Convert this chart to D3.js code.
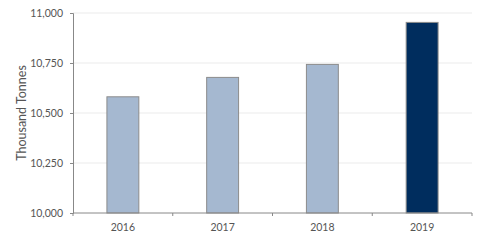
<!DOCTYPE html>
<html>
<head>
<meta charset="utf-8">
<script src="https://cdn.jsdelivr.net/npm/d3@7"></script>
<style>
  body { margin: 0; background: #fff; }
  text { font-family: "Lato", "DejaVu Sans", sans-serif; fill: #555; }
</style>
</head>
<body>
<script>
// data
const years = ['2016', '2017', '2018', '2019']
const tonnes = [10581, 10678, 10743, 10953]
const barColors = ['#a5b8d0', '#a5b8d0', '#a5b8d0', '#002d5e']
const yTicks = [10000, 10250, 10500, 10750, 11000]

const w = 485
const h = 242
const margin = { top: 13, right: 13, bottom: 29, left: 73 }

const svg = d3.select('body')
  .append('svg')
  .attr('width', w)
  .attr('height', h)

const x = d3.scaleBand()
  .domain(years)
  .range([margin.left, w - margin.right])
  .paddingInner(0.68)
  .paddingOuter(0.34)

const y = d3.scaleLinear()
  .domain([10000, 11000])
  .range([h - margin.bottom, margin.top])

// gridlines
svg.append('g')
  .selectAll('line')
  .data(yTicks.slice(1))
  .enter()
  .append('line')
  .attr('x1', margin.left)
  .attr('x2', w - margin.right)
  .attr('y1', d => y(d))
  .attr('y2', d => y(d))
  .attr('stroke', '#ebebeb')
  .attr('stroke-width', 1)

// bars
svg.append('g')
  .selectAll('rect')
  .data(years)
  .enter()
  .append('rect')
  .attr('x', d => x(d))
  .attr('y', (d, i) => y(tonnes[i]))
  .attr('width', x.bandwidth())
  .attr('height', (d, i) => y(10000) - y(tonnes[i]))
  .attr('fill', (d, i) => barColors[i])
  .attr('stroke', '#8c8c8c')
  .attr('stroke-width', 1)

// y axis
const yAxis = svg.append('g')
  .attr('transform', `translate(${margin.left},0)`)
  .call(d3.axisLeft(y).tickValues(yTicks).tickFormat(d3.format(',')).tickSize(3).tickPadding(7))
yAxis.select('.domain').attr('stroke', '#888')
yAxis.selectAll('.tick line').attr('stroke', '#888')
yAxis.selectAll('text').style('font-size', '10.5px').attr('fill', '#555')

// x axis
const band = x.step()
const x0 = x(years[0]) - x.step() * x.paddingOuter() + 0
const xAxis = svg.append('g')
  .attr('transform', `translate(0,${h - margin.bottom})`)
xAxis.append('line')
  .attr('x1', margin.left)
  .attr('x2', w - margin.right)
  .attr('stroke', '#888')
xAxis.selectAll('line.tk')
  .data(d3.range(years.length + 1))
  .enter()
  .append('line')
  .attr('class', 'tk')
  .attr('x1', i => margin.left + i * band)
  .attr('x2', i => margin.left + i * band)
  .attr('y1', 0)
  .attr('y2', 3)
  .attr('stroke', '#888')
xAxis.selectAll('text')
  .data(years)
  .enter()
  .append('text')
  .attr('x', d => x(d) + x.bandwidth() / 2)
  .attr('y', 18)
  .attr('text-anchor', 'middle')
  .style('font-size', '10.5px')
  .text(d => d)

// axis title
svg.append('text')
  .attr('transform', `translate(26,${(margin.top + h - margin.bottom) / 2}) rotate(-90)`)
  .attr('text-anchor', 'middle')
  .style('font-size', '12.5px')
  .text('Thousand Tonnes')
</script>
</body>
</html>
